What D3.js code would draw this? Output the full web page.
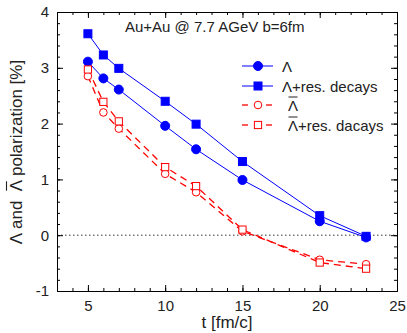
<!DOCTYPE html>
<html><head><meta charset="utf-8">
<script src="https://cdn.jsdelivr.net/npm/d3@7"></script>
<style>body{margin:0;background:#fff}svg{display:block}text{font-family:"Liberation Sans",Arial,sans-serif}</style>
</head><body>
<svg id="c" width="407" height="333"></svg>
<script>
// ---- data ----
const times = [5, 6, 7, 10, 12, 15, 20, 23];
const lambda = [3.11, 2.81, 2.61, 1.96, 1.54, 0.99, 0.25, -0.04];
const lambdaRes = [3.61, 3.23, 2.99, 2.40, 1.99, 1.32, 0.35, -0.02];
const antiLambda = [2.85, 2.20, 1.91, 1.10, 0.77, 0.07, -0.44, -0.52];
const antiLambdaRes = [2.97, 2.39, 2.04, 1.22, 0.88, 0.10, -0.49, -0.60];
const xTicks = [5, 10, 15, 20, 25];
const yTicks = [-1, 0, 1, 2, 3, 4];
const xMinor = d3.range(3, 25.01, 1);
const yMinor = d3.range(-1, 4.001, 0.2);
const titleText = "Au+Au @ 7.7 AGeV b=6fm";
const legendLabels = ["Λ", "Λ+res. decays", "Λ", "Λ+res. dacays"];

const svg = d3.select("#c");
const L = 57, R = 397, T = 12, B = 291;
const x = d3.scaleLinear().domain([3, 25]).range([L, R]);
const y = d3.scaleLinear().domain([-1, 4]).range([B, T]);
const blue = "#0000ff", red = "#ff0000";
const fmt = d => d3.format("d")(d).replace("−", "-");

// zero line
svg.append("line").attr("x1", L).attr("x2", R).attr("y1", y(0)).attr("y2", y(0))
  .attr("stroke", "#333").attr("stroke-width", 1).attr("stroke-dasharray", "1.5,2.5");

function styleAxis(g) {
  g.selectAll("path,line").attr("stroke", "#000").attr("stroke-width", 1);
  g.selectAll("text").attr("font-size", 15).attr("fill", "#222").attr("font-family", '"Liberation Sans",Arial,sans-serif');
}
// minor ticks
svg.append("g").attr("transform", `translate(0,${B})`).call(d3.axisBottom(x).tickValues(xMinor).tickSize(-3).tickFormat("")).call(styleAxis);
svg.append("g").attr("transform", `translate(0,${T})`).call(d3.axisTop(x).tickValues(xMinor).tickSize(-3).tickFormat("")).call(styleAxis);
svg.append("g").attr("transform", `translate(${L},0)`).call(d3.axisLeft(y).tickValues(yMinor).tickSize(-3).tickFormat("")).call(styleAxis);
svg.append("g").attr("transform", `translate(${R},0)`).call(d3.axisRight(y).tickValues(yMinor).tickSize(-3).tickFormat("")).call(styleAxis);
// major ticks
svg.append("g").attr("transform", `translate(0,${B})`).call(d3.axisBottom(x).tickValues(xTicks).tickSize(-6).tickSizeOuter(0).tickPadding(9).tickFormat(fmt)).call(styleAxis);
svg.append("g").attr("transform", `translate(0,${T})`).call(d3.axisTop(x).tickValues(xTicks).tickSize(-6).tickSizeOuter(0).tickFormat("")).call(styleAxis);
svg.append("g").attr("transform", `translate(${L},0)`).call(d3.axisLeft(y).tickValues(yTicks).tickSize(-6).tickSizeOuter(0).tickPadding(8).tickFormat(fmt)).call(styleAxis);
svg.append("g").attr("transform", `translate(${R},0)`).call(d3.axisRight(y).tickValues(yTicks).tickSize(-6).tickSizeOuter(0).tickFormat("")).call(styleAxis);

// series
const series = [
  {vals: lambda, color: blue, dash: null, marker: "circle", fill: true},
  {vals: lambdaRes, color: blue, dash: null, marker: "square", fill: true},
  {vals: antiLambda, color: red, dash: "7,5", marker: "circle", fill: false},
  {vals: antiLambdaRes, color: red, dash: "7,5", marker: "square", fill: false}
];
const line = d3.line().x(d => x(d[0])).y(d => y(d[1]));
function drawMarker(g, cx, cy, s) {
  if (s.marker === "circle") {
    g.append("circle").attr("cx", cx).attr("cy", cy).attr("r", s.fill ? 4.5 : 3.8)
      .attr("fill", s.fill ? s.color : "#fff").attr("stroke", s.color).attr("stroke-width", 1);
  } else {
    const h = s.fill ? 4 : 3.6;
    g.append("rect").attr("x", cx - h).attr("y", cy - h).attr("width", 2 * h).attr("height", 2 * h)
      .attr("fill", s.fill ? s.color : "#fff").attr("stroke", s.color).attr("stroke-width", 1);
  }
}
series.forEach(s => {
  const pts = times.map((t, i) => [t, s.vals[i]]);
  svg.append("path").attr("d", line(pts)).attr("fill", "none").attr("stroke", s.color)
    .attr("stroke-width", s.fill ? 1 : 1.3).attr("stroke-dasharray", s.dash);
});
series.forEach(s => {
  const g = svg.append("g");
  times.forEach((t, i) => drawMarker(g, x(t), y(s.vals[i]), s));
});

// title
svg.append("text").attr("x", 125).attr("y", 32).attr("font-size", 15).attr("fill", "#222").text(titleText);

// legend
const legY = [66, 86, 105, 125];
series.forEach((s, i) => {
  const g = svg.append("g");
  if (s.dash) {
    g.append("line").attr("x1", 242).attr("x2", 248).attr("y1", legY[i]).attr("y2", legY[i]).attr("stroke", s.color).attr("stroke-width", 1.3);
    g.append("line").attr("x1", 266).attr("x2", 272).attr("y1", legY[i]).attr("y2", legY[i]).attr("stroke", s.color).attr("stroke-width", 1.3);
  } else {
    g.append("line").attr("x1", 242).attr("x2", 273).attr("y1", legY[i]).attr("y2", legY[i]).attr("stroke", s.color).attr("stroke-width", 1);
  }
  drawMarker(g, 258, legY[i], s);
  const tx = s.dash ? 288 : 282;
  const t = g.append("text").attr("x", tx).attr("y", legY[i] + 5.5).attr("font-size", 15).attr("fill", "#222").text(legendLabels[i]);
  if (s.dash) {
    const w = t.node().getSubStringLength(0, 1);
    g.append("line").attr("x1", tx + 0.5).attr("x2", tx + w - 0.5).attr("y1", legY[i] - 8).attr("y2", legY[i] - 8).attr("stroke", "#222").attr("stroke-width", 1);
  }
});

// axis titles
svg.append("text").attr("x", (L + R) / 2).attr("y", 328).attr("text-anchor", "middle").attr("font-size", 17).attr("fill", "#222").text("t [fm/c]");
const yl = svg.append("g").attr("transform", "translate(22,152) rotate(-90)");
const ylt = yl.append("text").attr("x", 0).attr("y", 0).attr("text-anchor", "middle").attr("font-size", 17).attr("fill", "#222")
  .attr("xml:space", "preserve").style("white-space", "pre").text("Λ and  Λ polarization [%]");
{
  const n = ylt.node();
  const bb = n.getBBox();
  const s0 = n.getSubStringLength(0, 7);
  const w = n.getSubStringLength(7, 1);
  yl.append("line").attr("x1", bb.x + s0 + 0.5).attr("x2", bb.x + s0 + w - 0.5).attr("y1", -15.5).attr("y2", -15.5).attr("stroke", "#222").attr("stroke-width", 1.1);
}
</script>
</body></html>
